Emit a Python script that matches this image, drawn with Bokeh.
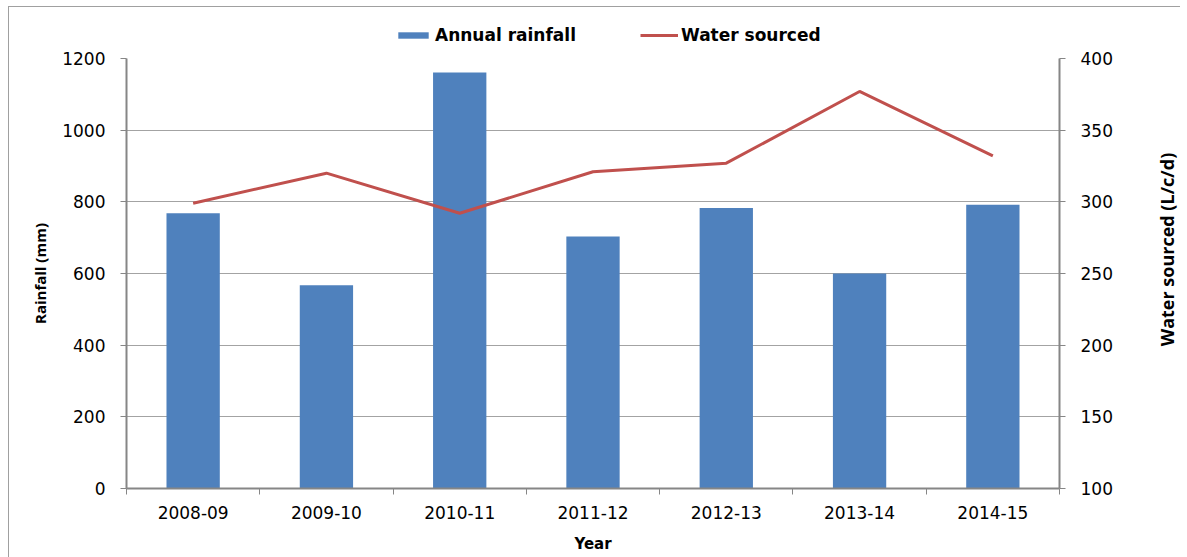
import math
from bokeh.plotting import figure
from bokeh.layouts import row, column
from bokeh.models import (Range1d, LinearAxis, FixedTicker, Legend, LegendItem,
                          ColumnDataSource, Label)
from bokeh.embed import file_html
from bokeh.resources import INLINE

# ---- data ----
years = ["2008-09", "2009-10", "2010-11", "2011-12", "2012-13", "2013-14", "2014-15"]
rainfall = [768, 567, 1161, 703, 783, 600, 792]
water = [299, 320, 292, 321, 327, 377, 332]
rain_ticks = [0, 200, 400, 600, 800, 1000, 1200]
water_ticks = [100, 150, 200, 250, 300, 350, 400]

pos = [i + 0.5 for i in range(len(years))]
bounds = list(range(len(years) + 1))
src = ColumnDataSource(dict(x=pos, year=years, rain=rainfall, water=water))

FONT = "DejaVu Sans"
TFONT = "Open Sans"
AX = "#868686"
BAR = "#4F81BD"
LINE = "#C0504D"
H = 550
LEG_H = 39
MAIN_W = 1131


def bare(f):
    f.frame_align = False
    f.xaxis.visible = False
    f.yaxis.visible = False
    f.grid.visible = False
    f.outline_line_color = None
    f.background_fill_color = "white"
    f.border_fill_color = "white"


# ---- main chart ----
p = figure(frame_width=933, frame_height=430, output_backend="svg",
           toolbar_location=None,
           x_range=Range1d(0, len(years)), y_range=Range1d(0, 1200),
           min_border_left=117, min_border_right=81, min_border_top=12,
           min_border_bottom=69)
p.frame_align = False
p.outline_line_color = None
p.background_fill_color = "white"
p.border_fill_color = "white"

p.extra_y_ranges = {"water": Range1d(100, 400)}

bars = p.vbar(x="x", top="rain", width=0.4, source=src, fill_color=BAR,
              line_color=None)
line = p.line(x="x", y="water", source=src, y_range_name="water",
              line_color=LINE, line_width=3)

p.xgrid.grid_line_color = None
p.ygrid.grid_line_color = "#a3a3a3"
p.ygrid.ticker = FixedTicker(ticks=rain_ticks)

xa = p.xaxis[0]
xa.ticker = FixedTicker(ticks=pos, minor_ticks=bounds)
xa.major_label_overrides = {pv: y for pv, y in zip(pos, years)}
xa.major_tick_line_color = None
xa.major_tick_out = 6
xa.major_tick_in = 0
xa.minor_tick_line_color = AX
xa.minor_tick_out = 6
xa.minor_tick_in = 0
xa.axis_line_color = AX
xa.axis_line_width = 2
xa.major_label_standoff = 11
xa.major_label_text_font = FONT
xa.major_label_text_font_size = "17px"
xa.major_label_text_color = "black"
xa.axis_label = "Year"
xa.axis_label_text_font = FONT
xa.axis_label_text_font_size = "15px"
xa.axis_label_text_font_style = "bold"
xa.axis_label_text_color = "black"
xa.axis_label_standoff = 13

ya = p.yaxis[0]
ya.ticker = FixedTicker(ticks=rain_ticks)
ya.major_tick_out = 6
ya.major_tick_in = 0
ya.minor_tick_line_color = None
ya.major_tick_line_color = AX
ya.axis_line_color = AX
ya.axis_line_width = 2
ya.major_label_standoff = 15
ya.major_label_text_font = FONT
ya.major_label_text_font_size = "17px"
ya.major_label_text_color = "black"
ya.axis_label = "Rainfall (mm)"
ya.axis_label_text_font = TFONT
ya.axis_label_text_font_size = "15px"
ya.axis_label_text_font_style = "bold"
ya.axis_label_text_color = "black"
ya.axis_label_standoff = 9

ra = LinearAxis(y_range_name="water", ticker=FixedTicker(ticks=water_ticks))
ra.major_tick_out = 6
ra.major_tick_in = 0
ra.minor_tick_line_color = None
ra.major_tick_line_color = AX
ra.axis_line_color = AX
ra.axis_line_width = 2
ra.major_label_standoff = 15
ra.major_label_text_font = FONT
ra.major_label_text_font_size = "17px"
ra.major_label_text_color = "black"
p.add_layout(ra, "right")

# ---- legend strip above the chart ----
lf = figure(width=MAIN_W, height=LEG_H, output_backend="svg", toolbar_location=None,
            x_range=Range1d(0, 1), y_range=Range1d(0, 1),
            min_border=0, min_border_left=0, min_border_right=0,
            min_border_top=0, min_border_bottom=0)
bare(lf)
# legend proxies (hidden; they only provide the legend swatches)
lbar = lf.vbar(x="x", top="rain", width=0.4, source=src, fill_color=BAR,
               line_color=None, visible=False)
lline = lf.line(x="x", y="water", source=src, line_color=LINE, line_width=3,
                visible=False)
legend = Legend(items=[LegendItem(label="Annual rainfall", renderers=[lbar]),
                       LegendItem(label="Water sourced", renderers=[lline])],
                orientation="horizontal", location=(385, 1),
                glyph_width=38, glyph_height=8, label_standoff=3, spacing=64,
                padding=0, margin=0, border_line_color=None,
                background_fill_alpha=0, inactive_fill_alpha=0,
                label_text_font=FONT, label_text_font_size="17px",
                label_text_font_style="bold", label_text_color="black")
lf.add_layout(legend)

# ---- narrow strip holding the right-hand axis title (reads bottom-to-top) ----
p2 = figure(width=40, height=H, output_backend="svg", toolbar_location=None,
            x_range=Range1d(0, 40), y_range=Range1d(0, H),
            min_border=0, min_border_left=0, min_border_right=0,
            min_border_top=0, min_border_bottom=0)
bare(p2)
rt = Label(x=26, y=H - 242, text="Water sourced (L/c/d)", angle=math.pi / 2,
           text_align="center", text_baseline="middle",
           text_font=TFONT, text_font_size="18px", text_font_style="bold",
           text_color="black")
p2.add_layout(rt)

lay = row(column(lf, p, spacing=0), p2, spacing=0)
lay.styles = {"margin-left": "8px", "margin-top": "6px",
              "border-top": "1px solid #a0a0a0", "border-left": "1px solid #a0a0a0"}

open("out.html", "w").write(file_html(lay, INLINE))
